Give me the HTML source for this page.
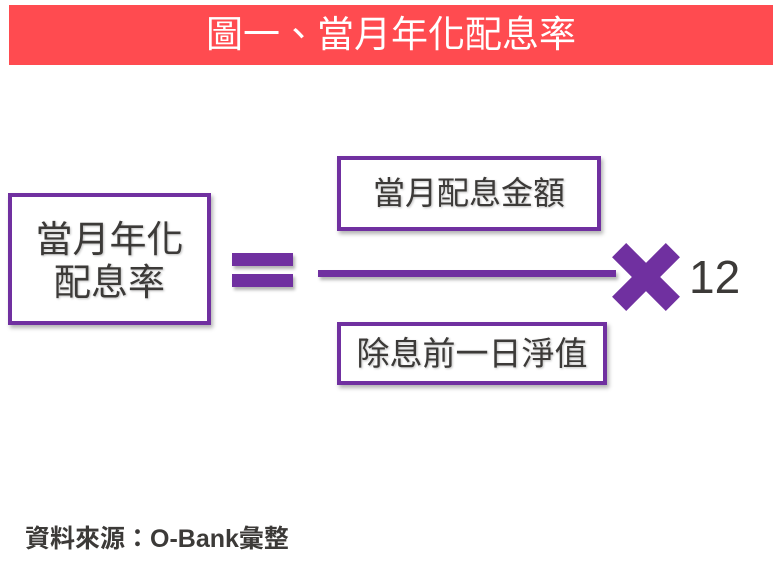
<!DOCTYPE html>
<html><head><meta charset="utf-8"><style>
body{margin:0;width:776px;height:567px;background:#fff;position:relative;overflow:hidden;font-family:"Liberation Sans","Noto Sans CJK TC",sans-serif;}
.a{position:absolute;}
.box{position:absolute;border:4px solid #7030a0;box-sizing:border-box;box-shadow:2px 3px 4px rgba(0,0,0,0.3);color:#3c3a38;text-align:center;background:#fff;text-shadow:1px 1px 2px rgba(0,0,0,0.25);white-space:nowrap;}
.bar{position:absolute;background:#7030a0;box-shadow:2px 3px 3px rgba(0,0,0,0.3);}
</style></head><body>
<div class="a" style="left:9px;top:5px;width:764px;height:60px;background:#ff4b50;color:#fff;font-size:37px;line-height:60px;text-align:center;">圖一、當月年化配息率</div>

<div class="box" style="left:8px;top:193px;width:203px;height:132px;font-size:37px;line-height:43px;padding-top:21px;">當月年化<br>配息率</div>

<div class="bar" style="left:232px;top:253px;width:61px;height:13px;"></div>
<div class="bar" style="left:232px;top:274px;width:61px;height:13px;"></div>

<div class="bar" style="left:318px;top:270px;width:298px;height:7px;"></div>

<div class="box" style="left:337px;top:156px;width:264px;height:75px;font-size:32px;line-height:67px;">當月配息金額</div>
<div class="box" style="left:337px;top:322px;width:270px;height:63px;font-size:33px;line-height:56px;">除息前一日淨值</div>

<svg class="a" style="left:610px;top:240px;" width="75" height="75">
<g transform="translate(36,37) rotate(45)" fill="#7030a0">
<rect x="-38" y="-10" width="76" height="20"/>
<rect x="-10" y="-38" width="20" height="76"/>
</g></svg>
<div class="a" style="left:689px;top:252px;font-size:46px;line-height:50px;color:#3c3a38;">12</div>

<div class="a" style="left:25px;top:524px;font-size:25px;line-height:30px;color:#3c3a38;font-weight:bold;">資料來源：O-Bank彙整</div>
</body></html>
